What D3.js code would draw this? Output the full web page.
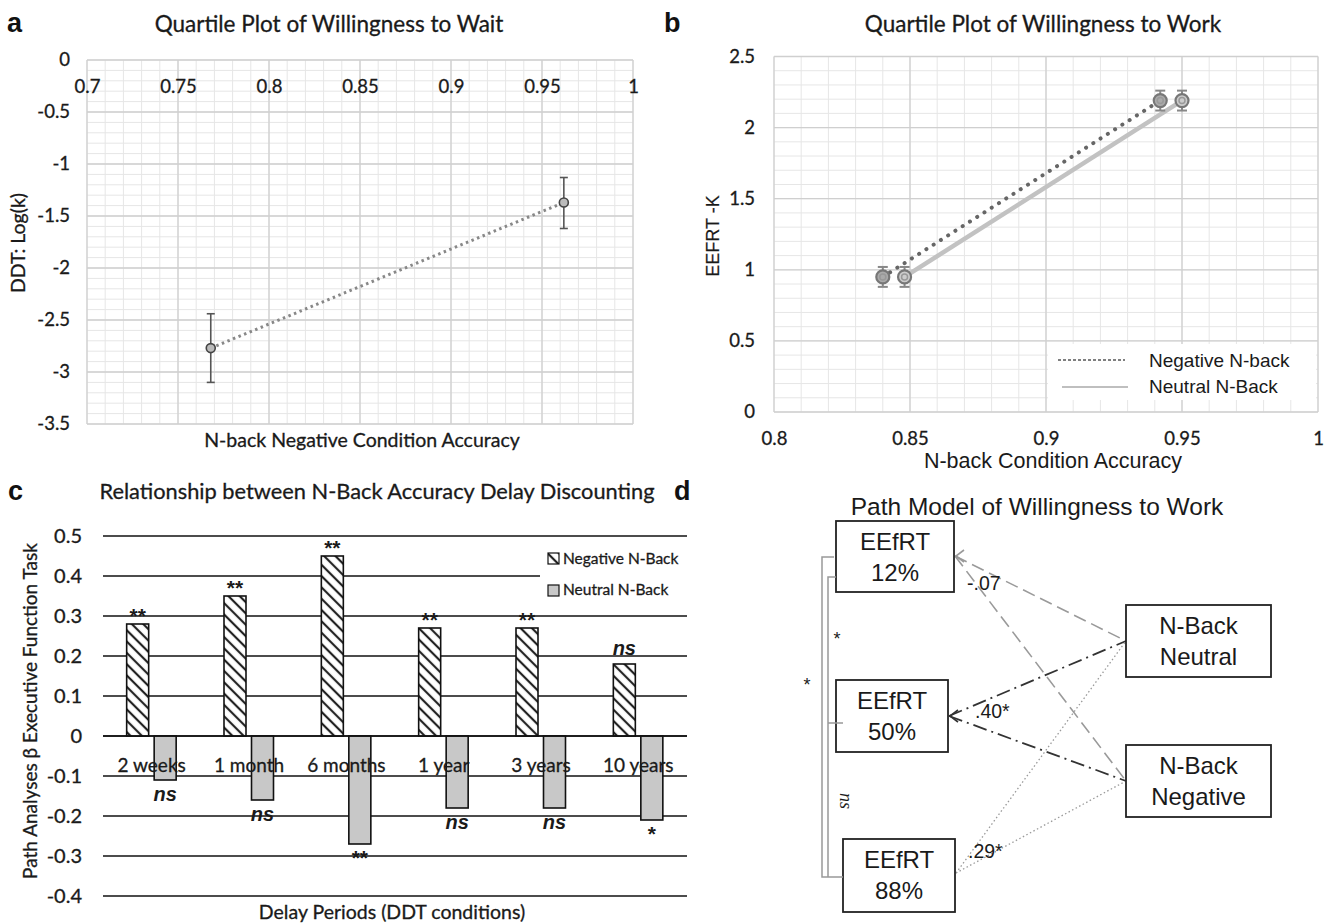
<!DOCTYPE html>
<html><head><meta charset="utf-8">
<script src="https://cdn.jsdelivr.net/npm/d3@7"></script>
<style>
body{margin:0;background:#fff}
svg text{font-family:Lato, "Open Sans", sans-serif;fill:#1a1a1a;stroke:#1a1a1a;stroke-width:0.3px}
</style></head>
<body>
<svg id="fig" width="1333" height="923"></svg>
<script>
// ---------- DATA ----------
// Panel a
const aX = [0.768, 0.962];
const aY = [-2.77, -1.37];
const aLo = [-3.10, -1.62];
const aHi = [-2.44, -1.13];
const aXTicks = [0.7, 0.75, 0.8, 0.85, 0.9, 0.95, 1];
const aYTicks = [0, -0.5, -1, -1.5, -2, -2.5, -3, -3.5];
// Panel b
const bNegX = [0.840, 0.942];
const bNegY = [0.95, 2.19];
const bNeuX = [0.848, 0.950];
const bNeuY = [0.95, 2.19];
const bErr = [0.07, 0.07];
const bXTicks = [0.8, 0.85, 0.9, 0.95, 1];
const bYTicks = [0, 0.5, 1, 1.5, 2, 2.5];
const bSeries = ["Negative N-back", "Neutral N-Back"];
// Panel c
const cCats = ["2 weeks", "1 month", "6 months", "1 year", "3 years", "10 years"];
const cNeg = [0.28, 0.35, 0.45, 0.27, 0.27, 0.18];
const cNeu = [-0.11, -0.16, -0.27, -0.18, -0.18, -0.21];
const cNegSig = ["**", "**", "**", "**", "**", "ns"];
const cNeuSig = ["ns", "ns", "**", "ns", "ns", "*"];
const cYTicks = [0.5, 0.4, 0.3, 0.2, 0.1, 0, -0.1, -0.2, -0.3, -0.4];
const cSeries = ["Negative N-Back", "Neutral N-Back"];
// Panel d
const dLeftBoxes = [["EEfRT", "12%"], ["EEfRT", "50%"], ["EEfRT", "88%"]];
const dRightBoxes = [["N-Back", "Neutral"], ["N-Back", "Negative"]];
const dCoefs = ["-.07", ".40*", ".29*"];
const dBracketSig = ["*", "ns", "*"];

const svg = d3.select("#fig");
const fmt = d => String(+(+d).toFixed(2));
const ARIAL = "Liberation Sans, Arial, sans-serif";

function panelLabel(t, x, y) {
  svg.append("text").attr("x", x).attr("y", y).text(t)
    .style("font-family", ARIAL).style("stroke-width", 0)
    .style("font-weight", "bold").style("font-size", "27px").style("fill", "#111");
}
function title(t, x, y, size, fam) {
  const s = svg.append("text").attr("x", x).attr("y", y).attr("text-anchor", "middle")
    .style("font-size", size + "px").text(t);
  if (fam) s.style("font-family", fam).style("stroke-width", 0);
  return s;
}
function styleTicks(sel, size) {
  sel.select(".domain").remove();
  sel.selectAll("text").style("font-size", size + "px").style("font-family", "Lato").attr("fill", "#1a1a1a");
}

// ---------- PANEL A ----------
(function () {
  const x = d3.scaleLinear().domain([0.7, 1]).range([87, 633]);
  const y = d3.scaleLinear().domain([-3.5, 0]).range([424, 60]);
  const g = svg.append("g");
  g.selectAll(".vm").data(x.ticks(30)).join("line")
    .attr("x1", d => x(d)).attr("x2", d => x(d)).attr("y1", y(0)).attr("y2", y(-3.5))
    .attr("stroke", "#e6e6e6").attr("stroke-width", 1);
  g.selectAll(".hm").data(y.ticks(35)).join("line")
    .attr("y1", d => y(d)).attr("y2", d => y(d)).attr("x1", x(0.7)).attr("x2", x(1))
    .attr("stroke", "#e6e6e6").attr("stroke-width", 1);
  g.selectAll(".vM").data(aXTicks).join("line")
    .attr("x1", d => x(d)).attr("x2", d => x(d)).attr("y1", y(0)).attr("y2", y(-3.5))
    .attr("stroke", "#cfcfcf").attr("stroke-width", 1.3);
  g.selectAll(".hM").data(aYTicks).join("line")
    .attr("y1", d => y(d)).attr("y2", d => y(d)).attr("x1", x(0.7)).attr("x2", x(1))
    .attr("stroke", "#cfcfcf").attr("stroke-width", 1.3);
  styleTicks(g.append("g").attr("transform", `translate(0,${y(0)})`)
    .call(d3.axisBottom(x).tickValues(aXTicks).tickFormat(fmt).tickSize(0).tickPadding(20)), 18.5);
  styleTicks(g.append("g").attr("transform", `translate(${x(0.7)},0)`)
    .call(d3.axisLeft(y).tickValues(aYTicks).tickFormat(fmt).tickSize(0).tickPadding(17)), 18.5);
  g.append("path").datum(aX.map((d, i) => [d, aY[i]]))
    .attr("d", d3.line().x(d => x(d[0])).y(d => y(d[1])))
    .attr("fill", "none").attr("stroke", "#888").attr("stroke-width", 3).attr("stroke-dasharray", "2.5 3.5");
  aX.forEach((d, i) => {
    g.append("line").attr("x1", x(d)).attr("x2", x(d)).attr("y1", y(aLo[i])).attr("y2", y(aHi[i])).attr("stroke", "#555").attr("stroke-width", 1.6);
    [aLo[i], aHi[i]].forEach(v => g.append("line").attr("x1", x(d) - 4).attr("x2", x(d) + 4).attr("y1", y(v)).attr("y2", y(v)).attr("stroke", "#555").attr("stroke-width", 1.6));
  });
  g.selectAll(".pt").data(aX).join("circle").attr("cx", d => x(d)).attr("cy", (d, i) => y(aY[i])).attr("r", 4.5)
    .attr("fill", "#bbb").attr("stroke", "#444").attr("stroke-width", 1.6);
  title("Quartile Plot of Willingness to Wait", 329, 32, 22.5);
  title("N-back Negative Condition Accuracy", 362, 447, 19.5);
  svg.append("text").attr("transform", "translate(25,243) rotate(-90)").attr("text-anchor", "middle")
    .style("font-size", "19.5px").text("DDT: Log(k)");
  panelLabel("a", 7, 32);
})();

// ---------- PANEL B ----------
(function () {
  const x = d3.scaleLinear().domain([0.8, 1]).range([774, 1318]);
  const y = d3.scaleLinear().domain([0, 2.5]).range([412, 56.5]);
  const g = svg.append("g");
  g.selectAll(".vm").data(x.ticks(20)).join("line")
    .attr("x1", d => x(d)).attr("x2", d => x(d)).attr("y1", y(0)).attr("y2", y(2.5))
    .attr("stroke", "#e6e6e6");
  g.selectAll(".hm").data(y.ticks(25)).join("line")
    .attr("y1", d => y(d)).attr("y2", d => y(d)).attr("x1", x(0.8)).attr("x2", x(1))
    .attr("stroke", "#e6e6e6");
  g.selectAll(".vM").data(bXTicks).join("line")
    .attr("x1", d => x(d)).attr("x2", d => x(d)).attr("y1", y(0)).attr("y2", y(2.5))
    .attr("stroke", "#cfcfcf").attr("stroke-width", 1.3);
  g.selectAll(".hM").data(bYTicks).join("line")
    .attr("y1", d => y(d)).attr("y2", d => y(d)).attr("x1", x(0.8)).attr("x2", x(1))
    .attr("stroke", "#cfcfcf").attr("stroke-width", 1.3);
  styleTicks(g.append("g").attr("transform", `translate(0,${y(0)})`)
    .call(d3.axisBottom(x).tickValues(bXTicks).tickFormat(fmt).tickSize(0).tickPadding(20)), 18.5);
  styleTicks(g.append("g").attr("transform", `translate(${x(0.8)},0)`)
    .call(d3.axisLeft(y).tickValues(bYTicks).tickFormat(fmt).tickSize(0).tickPadding(19)), 18.5);
  g.append("rect").attr("x", 1048).attr("y", 344).attr("width", 268).attr("height", 56).attr("fill", "#fff");
  const line = d3.line().x(d => x(d[0])).y(d => y(d[1]));
  g.append("path").datum(bNeuX.map((d, i) => [d, bNeuY[i]])).attr("d", line)
    .attr("fill", "none").attr("stroke", "#c2c2c2").attr("stroke-width", 4.5);
  g.append("path").datum(bNegX.map((d, i) => [d, bNegY[i]])).attr("d", line)
    .attr("fill", "none").attr("stroke", "#666").attr("stroke-width", 4).attr("stroke-linecap", "round").attr("stroke-dasharray", "0.1 8.5");
  function markers(xs, ys, fill) {
    xs.forEach((d, i) => {
      const cx = x(d), cy = y(ys[i]), e = bErr[i];
      g.append("line").attr("x1", cx).attr("x2", cx).attr("y1", y(ys[i] - e)).attr("y2", y(ys[i] + e)).attr("stroke", "#888").attr("stroke-width", 2);
      [ys[i] - e, ys[i] + e].forEach(v => g.append("line").attr("x1", cx - 5).attr("x2", cx + 5).attr("y1", y(v)).attr("y2", y(v)).attr("stroke", "#888").attr("stroke-width", 2));
      g.append("circle").attr("cx", cx).attr("cy", cy).attr("r", 6.5).attr("fill", fill).attr("stroke", "#777").attr("stroke-width", 2.2);
      g.append("circle").attr("cx", cx).attr("cy", cy).attr("r", 3).attr("fill", "none").attr("stroke", "#999").attr("stroke-width", 1.5);
    });
  }
  markers(bNegX, bNegY, "#aaa");
  markers(bNeuX, bNeuY, "#ccc");
  g.append("line").attr("x1", 1058).attr("x2", 1125).attr("y1", 360).attr("y2", 360).attr("stroke", "#555").attr("stroke-width", 1.3).attr("stroke-dasharray", "3 2");
  g.append("line").attr("x1", 1062).attr("x2", 1128).attr("y1", 387).attr("y2", 387).attr("stroke", "#aaa").attr("stroke-width", 1.5);
  bSeries.forEach((s, i) => g.append("text").attr("x", 1149).attr("y", 367 + i * 26).text(s)
    .style("font-family", ARIAL).style("stroke-width", 0).style("font-size", "19px"));
  title("Quartile Plot of Willingness to Work", 1043, 32, 22.5);
  title("N-back Condition Accuracy", 1053, 468, 21.5, "Liberation Sans Narrow, Arial");
  svg.append("text").attr("transform", "translate(719,236) rotate(-90)").attr("text-anchor", "middle")
    .style("font-size", "18px").style("font-family", ARIAL).style("stroke-width", "0.2px").text("EEFRT -K");
  panelLabel("b", 664, 32);
})();

// ---------- PANEL C ----------
(function () {
  const x = d3.scaleBand().domain(cCats).range([103, 687]);
  const y = d3.scaleLinear().domain([-0.4, 0.5]).range([896, 536]);
  const g = svg.append("g");
  const defs = svg.append("defs");
  const pat = defs.append("pattern").attr("id", "hatch").attr("patternUnits", "userSpaceOnUse")
    .attr("width", 8).attr("height", 8).attr("patternTransform", "rotate(45)");
  pat.append("rect").attr("width", 8).attr("height", 8).attr("fill", "#fff");
  pat.append("line").attr("x1", 0).attr("x2", 8).attr("y1", 4).attr("y2", 4).attr("stroke", "#222").attr("stroke-width", 2.2);
  g.selectAll(".grid").data(cYTicks).join("line")
    .attr("x1", x.range()[0]).attr("x2", x.range()[1]).attr("y1", d => y(d)).attr("y2", d => y(d))
    .attr("stroke", "#111").attr("stroke-width", 1.6);
  styleTicks(g.append("g").attr("transform", `translate(${x.range()[0]},0)`)
    .call(d3.axisLeft(y).tickValues(cYTicks).tickFormat(fmt).tickSize(0).tickPadding(21)), 20);
  g.append("rect").attr("x", 540).attr("y", 548).attr("width", 150).attr("height", 56).attr("fill", "#fff");
  const bw = 22, c = d => x(d) + x.bandwidth() / 2;
  g.selectAll(".neg").data(cCats).join("rect")
    .attr("x", d => c(d) - 25).attr("width", bw)
    .attr("y", (d, i) => y(cNeg[i])).attr("height", (d, i) => y(0) - y(cNeg[i]))
    .attr("fill", "url(#hatch)").attr("stroke", "#111").attr("stroke-width", 1.6);
  g.selectAll(".neu").data(cCats).join("rect")
    .attr("x", d => c(d) + 2.5).attr("width", bw)
    .attr("y", y(0)).attr("height", (d, i) => y(cNeu[i]) - y(0))
    .attr("fill", "#c8c8c8").attr("stroke", "#111").attr("stroke-width", 1.6);
  g.append("line").attr("x1", x.range()[0]).attr("x2", x.range()[1]).attr("y1", y(0)).attr("y2", y(0)).attr("stroke", "#111").attr("stroke-width", 1.6);
  g.selectAll(".cat").data(cCats).join("text").attr("x", d => c(d)).attr("y", 772)
    .attr("text-anchor", "middle").style("font-size", "19px").text(d => d);
  function sig(t, cx, yy) {
    const isNs = t === "ns";
    g.append("text").attr("x", cx).attr("y", yy).attr("text-anchor", "middle")
      .style("font-size", isNs ? "20px" : "21px").style("font-weight", "bold")
      .style("font-style", isNs ? "italic" : "normal")
      .style("font-family", ARIAL).style("stroke-width", 0).text(t);
  }
  cCats.forEach((d, i) => {
    const top = y(cNeg[i]);
    sig(cNegSig[i], c(d) - 14, cNegSig[i] === "ns" ? top - 9 : top - 1);
    const bot = y(cNeu[i]);
    sig(cNeuSig[i], c(d) + 13.5, bot + 21);
  });
  g.append("rect").attr("x", 548).attr("y", 553).attr("width", 11).attr("height", 11).attr("fill", "url(#hatch)").attr("stroke", "#111").attr("stroke-width", 1.2);
  g.append("rect").attr("x", 548).attr("y", 585).attr("width", 11).attr("height", 11).attr("fill", "#c8c8c8").attr("stroke", "#111").attr("stroke-width", 1.2);
  cSeries.forEach((s, i) => g.append("text").attr("x", 563).attr("y", 564 + i * 31).style("font-size", "15.5px").text(s));
  title("Relationship between N-Back Accuracy Delay Discounting", 377, 499, 21.8);
  title("Delay Periods (DDT conditions)", 392, 919, 19.5);
  svg.append("text").attr("transform", "translate(37,711) rotate(-90)").attr("text-anchor", "middle")
    .style("font-size", "19px").text("Path Analyses β Executive Function Task");
  panelLabel("c", 8, 500);
})();

// ---------- PANEL D ----------
(function () {
  const g = svg.append("g");
  const left = [{x: 836, y: 521, w: 118, h: 71}, {x: 836, y: 680, w: 112, h: 72}, {x: 843, y: 839, w: 112, h: 73}];
  const right = [{x: 1126, y: 605, w: 145, h: 72}, {x: 1126, y: 745, w: 145, h: 72}];
  const tL = [{x: 955, y: 556}, {x: 949, y: 716}, {x: 956, y: 873}];
  const tR = [{x: 1126, y: 641}, {x: 1126, y: 781}];
  const styles = [
    {stroke: "#9a9a9a", w: 1.6, dash: "13 6"},
    {stroke: "#333", w: 1.8, dash: "14 5 2 5"},
    {stroke: "#9a9a9a", w: 1.3, dash: "1.5 2.5"}
  ];
  tL.forEach((p, i) => tR.forEach(q => {
    g.append("line").attr("x1", p.x).attr("y1", p.y).attr("x2", q.x).attr("y2", q.y)
      .attr("stroke", styles[i].stroke).attr("stroke-width", styles[i].w).attr("stroke-dasharray", styles[i].dash);
  }));
  [[0, "#9a9a9a"], [1, "#333"]].forEach(([i, col]) => {
    const p = tL[i];
    g.append("path").attr("d", `M${p.x + 9},${p.y - 6} L${p.x + 1},${p.y} L${p.x + 9},${p.y + 6}`)
      .attr("fill", "none").attr("stroke", col).attr("stroke-width", 1.6);
  });
  function box(b, lines) {
    g.append("rect").attr("x", b.x).attr("y", b.y).attr("width", b.w).attr("height", b.h)
      .attr("fill", "#fff").attr("stroke", "#222").attr("stroke-width", 1.8);
    lines.forEach((t, j) => g.append("text").attr("x", b.x + b.w / 2).attr("y", b.y + 29 + j * 31)
      .attr("text-anchor", "middle").style("font-family", ARIAL).style("stroke-width", 0).style("font-size", "24px").text(t));
  }
  dLeftBoxes.forEach((l, i) => box(left[i], l));
  dRightBoxes.forEach((l, i) => box(right[i], l));
  const coefPos = [[967, 590], [975, 718], [968, 858]];
  dCoefs.forEach((t, i) => g.append("text").attr("x", coefPos[i][0]).attr("y", coefPos[i][1])
    .style("font-family", ARIAL).style("stroke-width", 0).style("font-size", "19.5px").text(t));
  const br = "#999";
  g.append("path").attr("d", "M834,557 L822,557 L822,877 L843,877").attr("fill", "none").attr("stroke", br).attr("stroke-width", 1.5);
  g.append("path").attr("d", "M836,577 L828,577 L828,877").attr("fill", "none").attr("stroke", br).attr("stroke-width", 1.5);
  g.append("line").attr("x1", 828).attr("x2", 843).attr("y1", 723).attr("y2", 723).attr("stroke", br).attr("stroke-width", 1.5);
  g.append("text").attr("x", 837).attr("y", 645).attr("text-anchor", "middle").style("font-size", "18px").style("font-family", ARIAL).style("stroke-width", 0).text(dBracketSig[0]);
  g.append("text").attr("transform", "translate(840,801) rotate(90)").attr("text-anchor", "middle")
    .style("font-size", "18px").style("font-style", "italic").style("font-family", "Liberation Serif, serif").style("stroke-width", 0).text(dBracketSig[1]);
  g.append("text").attr("x", 807).attr("y", 691).attr("text-anchor", "middle").style("font-size", "18px").style("font-family", ARIAL).style("stroke-width", 0).text(dBracketSig[2]);
  title("Path Model of Willingness to Work", 1037, 515, 24.5, ARIAL);
  panelLabel("d", 674, 500);
})();
</script>
</body></html>
